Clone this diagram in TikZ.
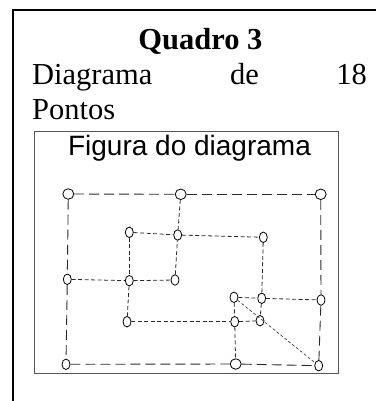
\documentclass[tikz,border=0pt]{standalone}
\usepackage{fontspec}
\setmainfont{Liberation Serif}
\newfontfamily\arialfont{Liberation Sans}
\usetikzlibrary{shapes.geometric}
\definecolor{quadgray}{HTML}{555555}
\definecolor{dashgray}{HTML}{2A2A2A}

\begin{document}
\begin{tikzpicture}[
        x=1pt, y=-1pt,
        pto/.style={
          draw=black,
          fill=white,
          ellipse,
          inner sep=0pt,
          minimum width=8pt,
          minimum height=10.5pt,
          line width=0.8pt
        },
        bigpto/.style={pto, minimum width=11pt},
        longdash/.style={draw=dashgray, line width=0.9pt, dash pattern=on 10pt off 5pt},
        shortdash/.style={draw=dashgray, line width=0.8pt, dash pattern=on 4pt off 2.5pt},
        finedash/.style={draw=dashgray, line width=0.6pt, dash pattern=on 3pt off 2pt},
        texto/.style={anchor=base, inner sep=0pt, font=\fontsize{30.5}{34}\selectfont}
      ]
      \useasboundingbox (0,0) rectangle (376,401);

      % moldura do quadro
      \draw[line width=2pt] (13,401) -- (13,10) -- (376,10);
      \node[texto, font=\fontsize{30.5}{34}\selectfont\bfseries] (titulo) at (200.5,50) {Quadro 3};
      \node[texto, anchor=base west] (diag) at (32,85) {Diagrama};
      \node[texto, anchor=base west] (de) at (230,85) {de};
      \node[texto, anchor=base east] (dezoito) at (367,85) {18};
      \node[texto, anchor=base west] (pontos) at (32,119) {Pontos};

      % figura
      \draw[quadgray, line width=1pt] (34.5,131) rectangle (338.5,373);
      \node[anchor=base, inner sep=0pt, font=\arialfont\fontsize{28}{32}\selectfont] (figura) at (189.5,155) {Figura do diagrama};

      \node[bigpto] (p1) at (68.3,194) {};
      \node[bigpto] (p2) at (180.7,194.3) {};
      \node[bigpto] (p3) at (320.7,194.3) {};
      \node[pto] (p4) at (129.3,232.3) {};
      \node[pto] (p5) at (177.7,235) {};
      \node[pto] (p6) at (263.3,237.3) {};
      \node[pto] (p7) at (67.3,279.3) {};
      \node[pto] (p8) at (129.3,280.7) {};
      \node[pto] (p9) at (175,280) {};
      \node[pto] (p10) at (234,297.3) {};
      \node[pto] (p11) at (261.7,298.3) {};
      \node[pto] (p12) at (321,300) {};
      \node[pto] (p13) at (127,321.7) {};
      \node[pto] (p14) at (234.7,321.7) {};
      \node[pto] (p15) at (260,320.7) {};
      \node[pto] (p16) at (66,364.3) {};
      \node[bigpto] (p17) at (235.7,364) {};
      \node[pto] (p18) at (318.7,365.7) {};

      \draw[longdash] (p1) -- (p2);
      \draw[longdash] (p2) -- (p3);
      \draw[longdash] (p1) -- (p7);
      \draw[longdash] (p7) -- (p16);
      \draw[longdash] (p16) -- (p17);
      \draw[longdash] (p17) -- (p18);
      \draw[longdash] (p3) -- (p12);
      \draw[longdash] (p12) -- (p18);

      \draw[shortdash] (p2) -- (p5);
      \draw[shortdash] (p4) -- (p5);
      \draw[shortdash] (p5) -- (p6);
      \draw[shortdash] (p4) -- (p8);
      \draw[shortdash] (p7) -- (p8);
      \draw[shortdash] (p8) -- (p9);
      \draw[shortdash] (p9) -- (p5);
      \draw[shortdash] (p8) -- (p13);
      \draw[shortdash] (p13) -- (p14);
      \draw[shortdash] (p14) -- (p15);
      \draw[shortdash] (p6) -- (p11);
      \draw[shortdash] (p11) -- (p15);
      \draw[shortdash] (p10) -- (p11);
      \draw[shortdash] (p11) -- (p12);
      \draw[shortdash] (p10) -- (p14);
      \draw[shortdash] (p14) -- (p17);

      \draw[finedash] (p10) -- (p18);

      \end{tikzpicture}
\end{document}
